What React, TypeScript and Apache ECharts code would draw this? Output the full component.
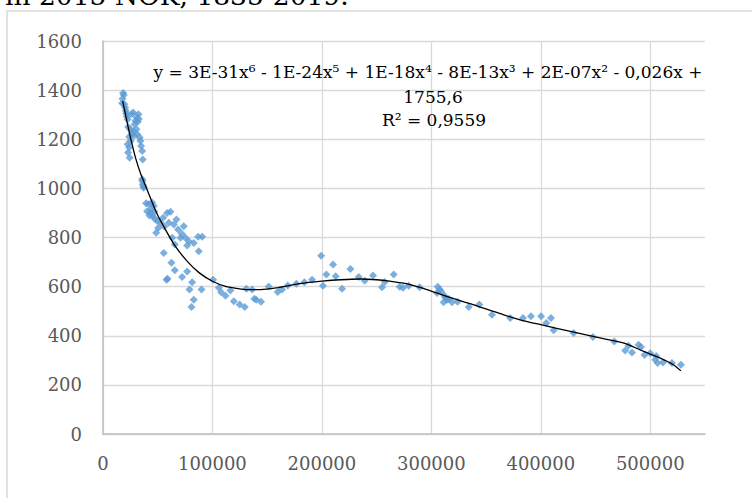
import React, { useEffect, useRef } from "react";
import * as echarts from "echarts";

const xTicks = [0, 100000, 200000, 300000, 400000, 500000];
const yTicks = [0, 200, 400, 600, 800, 1000, 1200, 1400, 1600];

const titleText = "in 2015 NOK, 1835-2019.";
const eqLine1 = "y = 3E-31x⁶ - 1E-24x⁵ + 1E-18x⁴ - 8E-13x³ + 2E-07x² - 0,026x +";
const eqLine2 = "1755,6";
const eqLine3 = "R² = 0,9559";

const pointsTop: [number, number][] = [
  [18400, 1388], [19000, 1380], [17800, 1365], [17500, 1347], [19600, 1343], [20200, 1329],
  [20800, 1316], [21200, 1305], [21800, 1293], [22500, 1280], [27600, 1309], [32400, 1302],
  [32700, 1282], [31800, 1271], [29700, 1275], [28800, 1261], [26000, 1302], [30800, 1289],
  [27600, 1234], [30600, 1241], [31200, 1220], [28100, 1214], [33600, 1207], [34200, 1193],
  [22500, 1180], [23900, 1166], [25300, 1193], [34800, 1173], [35800, 1152], [22900, 1146],
  [24400, 1125], [36300, 1118], [23000, 1250], [25000, 1240], [26500, 1222], [24000, 1210],
  [35800, 1037], [36300, 1016], [37200, 1003], [36000, 1030], [37000, 1009],
];

const pointsMid: [number, number][] = [
  [39400, 939], [41800, 935], [44900, 942], [46400, 928], [40300, 907], [43400, 900],
  [45500, 887], [47300, 876], [49500, 867], [50400, 839], [48600, 819], [44000, 915],
  [42500, 890], [47000, 905], [58600, 900], [61600, 905], [60100, 860], [67100, 873],
  [64700, 853], [68600, 833], [73800, 846], [63200, 799], [70800, 799], [75300, 799],
  [78400, 785], [82900, 778], [76900, 767], [86900, 803], [90600, 803], [87500, 744],
  [65600, 771], [55000, 880], [52500, 860], [56000, 845], [72000, 815],
  [55500, 737], [62500, 697], [65600, 667], [76900, 662], [72300, 639], [58000, 628],
  [59000, 632], [81400, 618], [79000, 588], [90000, 588], [82900, 547], [80800, 517],
];

const pointsRight: [number, number][] = [
  [100600, 628], [105800, 595], [107900, 577], [111900, 563], [116400, 584], [119500, 540],
  [124900, 527], [129500, 517], [131000, 591], [136300, 588], [138300, 551], [140000, 547],
  [144400, 538], [151400, 601], [159600, 578], [163600, 588], [168800, 605], [176700, 612],
  [184000, 618], [191000, 628], [199300, 726], [201000, 604], [204100, 649], [210200, 690],
  [212600, 642], [218400, 591], [226000, 672], [233600, 639], [239100, 624], [246700, 645],
  [254900, 597], [257400, 619], [265600, 649], [271000, 599], [274100, 595], [279300, 604],
  [289300, 597], [305800, 599], [307600, 588], [305200, 574], [311900, 563], [314300, 547],
  [311200, 536], [318900, 536], [316000, 550], [309000, 580], [313000, 555], [324000, 538],
  [334100, 517], [343800, 527], [355400, 486], [372100, 472], [383700, 472], [391000, 479],
  [400200, 479], [405000, 452], [409300, 472], [411700, 422], [430000, 411], [447600, 395],
  [467100, 377], [477100, 340], [480100, 359], [483300, 332], [489300, 363], [491500, 354],
  [494800, 322], [500000, 329], [505400, 318], [504500, 302], [506700, 289], [511600, 291],
  [519800, 289], [528000, 282],
];

const trendPoints: [number, number][] = [
  [18000, 1355], [22000, 1270], [26000, 1190], [30000, 1120], [34000, 1065], [38000, 1020],
  [43000, 965], [49000, 900], [57000, 833], [66000, 765], [77000, 703], [88000, 656],
  [100000, 622], [112000, 601], [122000, 593], [132000, 588], [144000, 588], [160000, 596],
  [180000, 612], [200000, 622], [217000, 628], [235000, 631], [250000, 628], [262000, 622],
  [278000, 611], [296000, 588], [314000, 560], [338000, 527], [363000, 490], [381000, 465],
  [400000, 445], [427000, 418], [454000, 391], [476000, 370], [494000, 336], [509000, 309],
  [520000, 285], [528000, 257],
];

const FONT = "'DejaVu Serif', serif";

export default function App() {
  const ref = useRef<HTMLDivElement>(null);
  useEffect(() => {
    if (!ref.current) return;
    const chart = echarts.init(ref.current, undefined, { renderer: "svg" });
    chart.setOption({
      animation: false,
      backgroundColor: "#ffffff",
      grid: { left: 103, right: 47, top: 41, bottom: 64, containLabel: false },
      xAxis: {
        type: "value",
        min: xTicks[0],
        max: 550000,
        interval: 100000,
        axisLine: { show: true, lineStyle: { color: "#bfbfbf", width: 1.5 } },
        axisTick: { show: false },
        axisLabel: {
          color: "#595959",
          fontFamily: FONT,
          fontSize: 18,
          margin: 20,
          showMaxLabel: false,
          formatter: (v: number) => (xTicks.includes(v) ? String(v) : ""),
        },
        splitLine: { show: true, showMaxLine: false, lineStyle: { color: "#d9d9d9", width: 1.3 } },
      },
      yAxis: {
        type: "value",
        min: yTicks[0],
        max: yTicks[yTicks.length - 1],
        interval: 200,
        axisLine: { show: true, lineStyle: { color: "#bfbfbf", width: 1.5 } },
        axisTick: { show: false },
        axisLabel: {
          color: "#595959",
          fontFamily: FONT,
          fontSize: 18,
          margin: 21,
          formatter: (v: number) => (yTicks.includes(v) ? String(v) : ""),
        },
        splitLine: { show: true, lineStyle: { color: "#d9d9d9", width: 1.3 } },
      },
      series: [
        {
          type: "scatter",
          symbol: "diamond",
          symbolSize: 8,
          itemStyle: { color: "#5B9BD5" },
          data: [...pointsTop, ...pointsMid, ...pointsRight],
          z: 2,
        },
        {
          type: "line",
          data: trendPoints,
          smooth: 0.3,
          showSymbol: false,
          symbol: "none",
          lineStyle: { color: "#000000", width: 1.3 },
          z: 3,
        },
      ],
      graphic: [
        {
          type: "rect",
          shape: { x: 7, y: 11, width: 800, height: 600 },
          style: { fill: "none", stroke: "#d9d9d9", lineWidth: 1.5 },
          silent: true,
          z: -1,
        },
        {
          type: "text",
          x: 5,
          y: -5,
          style: { text: titleText, font: `26.5px ${FONT}`, fill: "#000000", textAlign: "left", textVerticalAlign: "middle" },
        },
        {
          type: "text",
          x: 428,
          y: 72,
          style: { text: eqLine1, font: `17px ${FONT}`, fill: "#000000", textAlign: "center", textVerticalAlign: "middle" },
          z: 10,
        },
        {
          type: "text",
          x: 433,
          y: 97,
          style: { text: eqLine2, font: `17px ${FONT}`, fill: "#000000", textAlign: "center", textVerticalAlign: "middle" },
          z: 10,
        },
        {
          type: "text",
          x: 434,
          y: 120,
          style: { text: eqLine3, font: `17px ${FONT}`, fill: "#000000", textAlign: "center", textVerticalAlign: "middle" },
          z: 10,
        },
      ],
    });
    return () => chart.dispose();
  }, []);
  return <div ref={ref} style={{ position: "fixed", left: 0, top: 0, width: 752, height: 498 }} />;
}
